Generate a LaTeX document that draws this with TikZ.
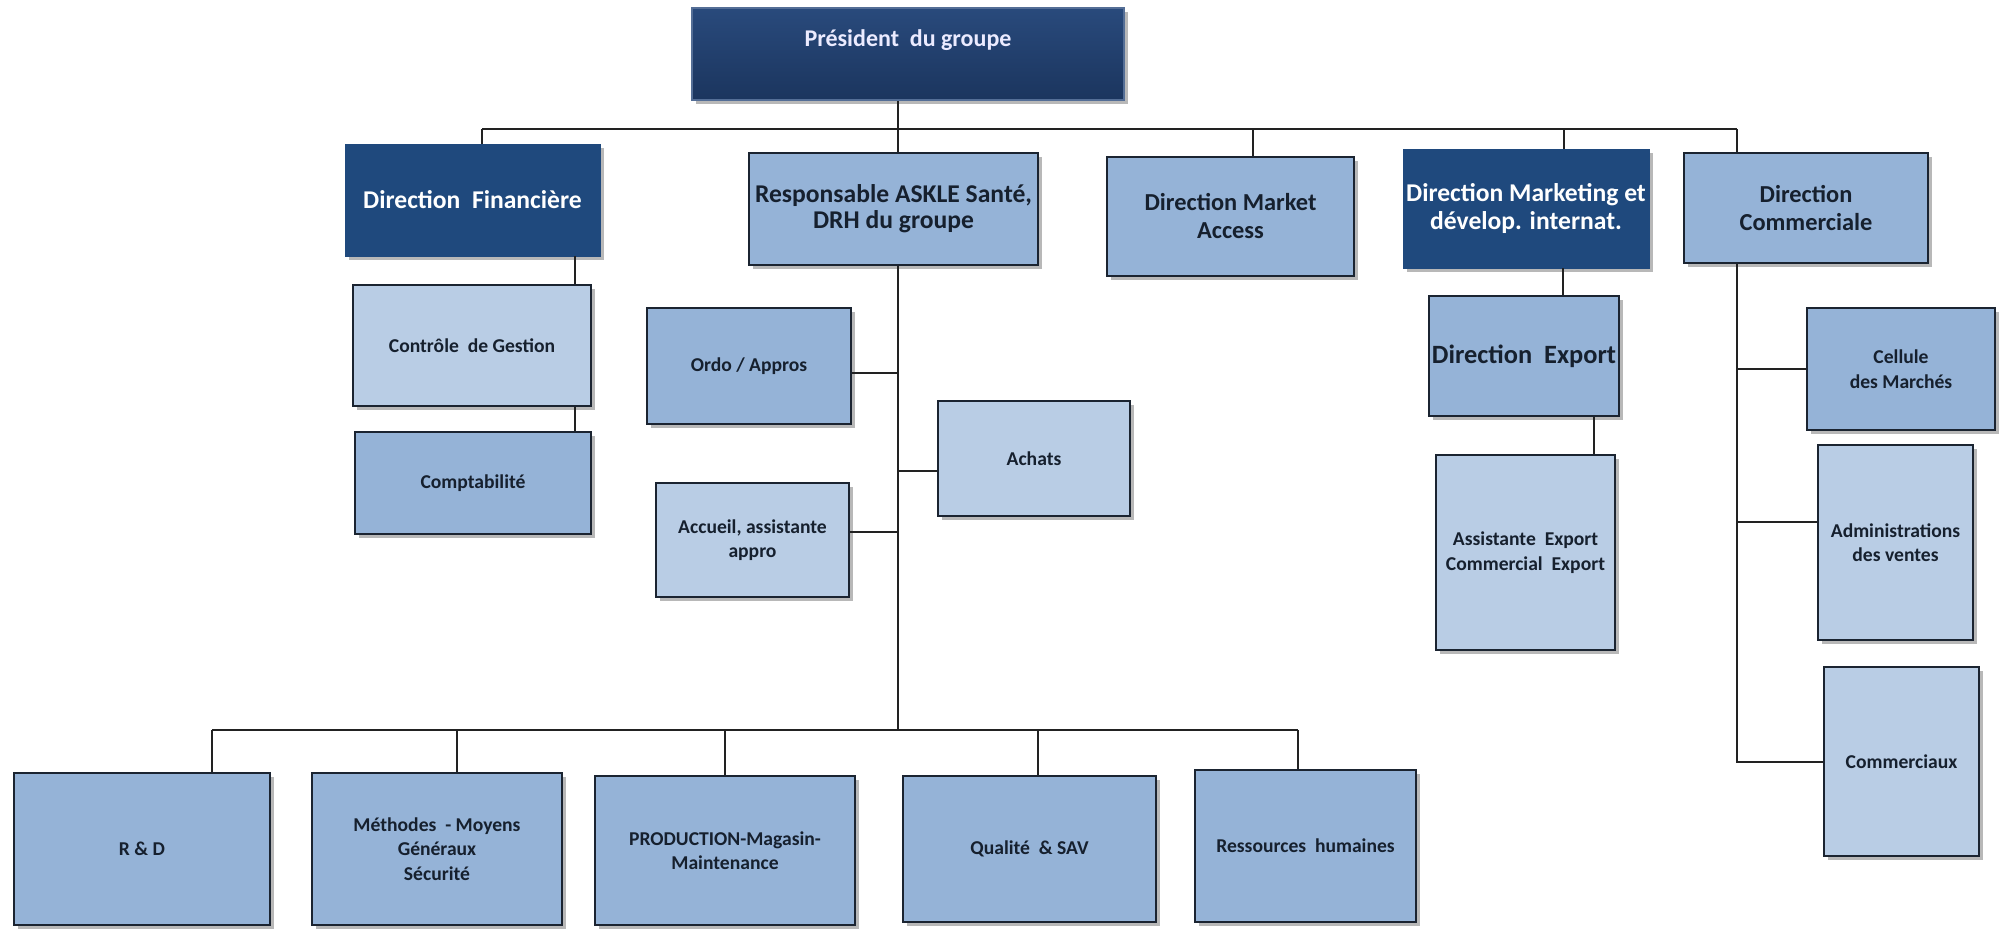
\documentclass[tikz,border=0pt]{standalone}
\usepackage{fontspec}
\setmainfont{Carlito}
\usetikzlibrary{shadows,calc}
\definecolor{navy}{HTML}{1F3B68}
\definecolor{navytop}{HTML}{294A7C}
\definecolor{navybot}{HTML}{1B355E}
\definecolor{darkb}{HTML}{1F497D}
\definecolor{medb}{HTML}{95B3D7}
\definecolor{lightb}{HTML}{B9CDE5}
\definecolor{edge}{HTML}{1B2431}
\definecolor{ink}{HTML}{16202E}
\definecolor{wirec}{HTML}{222222}
\tikzset{
  basebox/.style={rectangle, inner sep=0pt, align=center,
    drop shadow={shadow xshift=2pt, shadow yshift=-2pt, opacity=0.28, fill=black}},
  medbox/.style={basebox, fill=medb, draw=edge, line width=1pt, text=ink},
  lightbox/.style={basebox, fill=lightb, draw=edge, line width=1pt, text=ink},
  darkbox/.style={basebox, fill=darkb, draw=darkb, text=white},
  presbox/.style={basebox, top color=navytop, bottom color=navybot, draw=navytop!80!white, line width=1pt},
  headtxt/.style={font=\fontsize{12.2}{14}\selectfont\bfseries},
  bigtxt/.style={font=\fontsize{12.8}{14}\selectfont\bfseries},
  resptxt/.style={font=\fontsize{12.8}{13}\selectfont\bfseries},
  smalltxt/.style={font=\fontsize{9.8}{12.2}\selectfont\bfseries},
  wire/.style={draw=wirec, line width=1pt},
}
% style, name, x1, y1, x2, y2, text  (pixel coordinates, y downwards)
\newcommand\orgbox[7]{\node[#1, minimum width={(#5-#3)*0.5pt}, minimum height={(#6-#4)*0.5pt}] (#2) at ({(#3+#5)/2},{(#4+#6)/2}) {#7};}
\begin{document}
\begin{tikzpicture}[x=0.5pt,y=-0.5pt]
\useasboundingbox (0,0) rectangle (2001,929);

% ---- top
\orgbox{presbox}{pres}{692}{8}{1124}{100}{}
\node[font=\fontsize{12}{13}\selectfont\bfseries, text=white!92!blue] (prestxt) at (908,40) {Président~ du groupe};

% ---- level 2
\orgbox{darkbox,bigtxt}{df}{345}{144}{600}{256}{Direction~ Financière}
\orgbox{medbox,resptxt}{resp}{749}{153}{1038}{265}{Responsable ASKLE Santé,\\DRH du groupe}
\orgbox{medbox,headtxt}{ma}{1107}{157}{1354}{276}{Direction Market\\Access}
\orgbox{darkbox,bigtxt}{mkt}{1403}{149}{1649}{268}{Direction Marketing et\\dévelop. internat.}
\orgbox{medbox,headtxt}{com}{1684}{153}{1928}{263}{Direction\\Commerciale}

% ---- finance
\orgbox{lightbox,smalltxt}{ctrl}{353}{285}{591}{406}{Contrôle~ de Gestion}
\orgbox{medbox,smalltxt}{compt}{355}{432}{591}{534}{Comptabilité}

% ---- ASKLE branches
\orgbox{medbox,smalltxt}{ordo}{647}{308}{851}{424}{Ordo / Appros}
\orgbox{lightbox,smalltxt}{achats}{938}{401}{1130}{516}{Achats}
\orgbox{lightbox,smalltxt}{accueil}{656}{483}{849}{597}{Accueil, assistante\\appro}

% ---- export
\orgbox{medbox,font=\fontsize{13.2}{15}\selectfont\bfseries}{exp}{1429}{296}{1619}{416}{Direction~ Export}
\orgbox{lightbox,smalltxt}{assist}{1436}{455}{1615}{650}{Assistante~ Export\\Commercial~ Export}

% ---- commercial
\orgbox{medbox,smalltxt}{cell}{1807}{308}{1995}{430}{Cellule\\des Marchés}
\orgbox{lightbox,smalltxt}{admin}{1818}{445}{1973}{640}{Administrations\\des ventes}
\orgbox{lightbox,smalltxt}{comx}{1824}{667}{1979}{856}{Commerciaux}

% ---- bottom row
\orgbox{medbox,smalltxt}{rd}{14}{773}{270}{925}{R \& D}
\orgbox{medbox,smalltxt}{meth}{312}{773}{562}{925}{Méthodes~ - Moyens\\Généraux\\Sécurité}
\orgbox{medbox,smalltxt}{prod}{595}{776}{855}{925}{PRODUCTION-Magasin-\\Maintenance}
\orgbox{medbox,smalltxt}{qual}{903}{776}{1156}{922}{Qualité~ \& SAV}
\orgbox{medbox,smalltxt}{rh}{1195}{770}{1416}{922}{Ressources~ humaines}

% ---- bus coordinates
\coordinate (jDF) at (482,129);
\coordinate (jResp) at (898,129);
\coordinate (jMA) at (1253,129);
\coordinate (jMkt) at (1564,129);
\coordinate (jCom) at (1737,129);
\coordinate (jBot) at (898,730);
\coordinate (jRD) at (212,730);
\coordinate (jMeth) at (457,730);
\coordinate (jProd) at (725,730);
\coordinate (jQual) at (1038,730);
\coordinate (jRH) at (1298,730);
\coordinate (xF) at (575,0);
\coordinate (xM) at (1563,0);
\coordinate (xE) at (1594,0);
\coordinate (jC3) at (1737,763);

% ---- top connectors
\draw[wire] (jResp |- pres.south) -- (jResp);
\draw[wire] (jDF) -- (jCom);
\foreach \j/\n in {jDF/df, jResp/resp, jMA/ma, jMkt/mkt, jCom/com}
  \draw[wire] (\j) -- (\j |- \n.north);

% ---- finance chain
\draw[wire] (xF |- df.south) -- (xF |- ctrl.north);
\draw[wire] (xF |- ctrl.south) -- (xF |- compt.north);

% ---- ASKLE trunk
\draw[wire] (jResp |- resp.south) -- (jBot);
\draw[wire] ($(ordo.east)+(0,7)$) coordinate (o1) -- (o1 -| jBot);
\draw[wire] ($(achats.west)+(0,13)$) coordinate (a1) -- (a1 -| jBot);
\draw[wire] ($(accueil.east)+(0,-8)$) coordinate (c1) -- (c1 -| jBot);

% ---- bottom bus
\draw[wire] (jRD) -- (jRH);
\foreach \j/\n in {jRD/rd, jMeth/meth, jProd/prod, jQual/qual, jRH/rh}
  \draw[wire] (\j) -- (\j |- \n.north);

% ---- export chain
\draw[wire] (xM |- mkt.south) -- (xM |- exp.north);
\draw[wire] (xE |- exp.south) -- (xE |- assist.north);

% ---- commercial trunk
\draw[wire] (jCom |- com.south) -- (jC3);
\draw[wire] (cell.west) -- (cell.west -| jCom);
\draw[wire] ($(admin.west)+(0,-20)$) coordinate (d1) -- (d1 -| jCom);
\draw[wire] (comx.west) -- (comx.west -| jCom);
\end{tikzpicture}
\end{document}
